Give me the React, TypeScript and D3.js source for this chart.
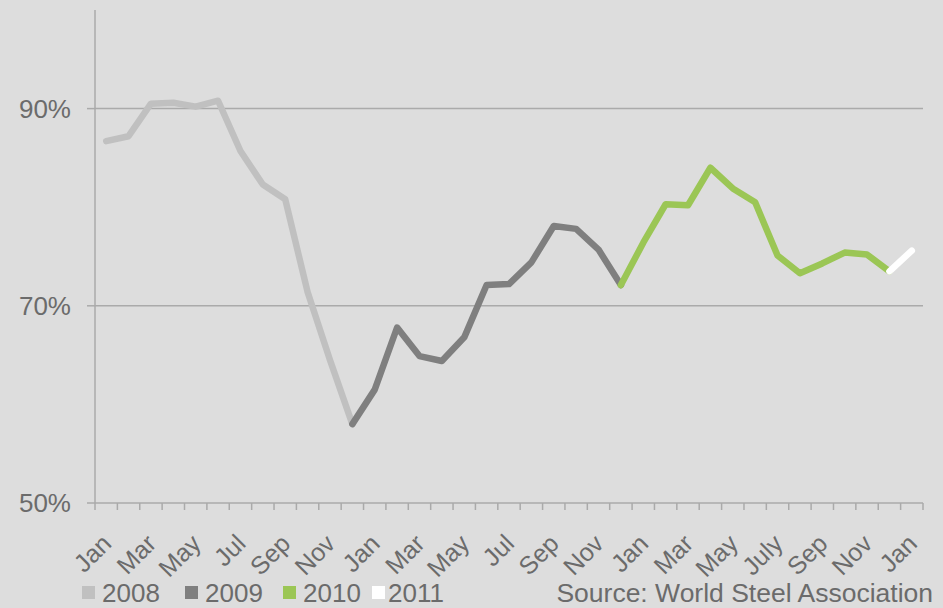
import { useEffect, useRef } from "react";
import * as d3 from "d3";

// one category per month, Jan 2008 .. Jan 2011
const months = [
  "Jan 08", "Feb 08", "Mar 08", "Apr 08", "May 08", "Jun 08", "Jul 08", "Aug 08", "Sep 08", "Oct 08", "Nov 08", "Dec 08",
  "Jan 09", "Feb 09", "Mar 09", "Apr 09", "May 09", "Jun 09", "Jul 09", "Aug 09", "Sep 09", "Oct 09", "Nov 09", "Dec 09",
  "Jan 10", "Feb 10", "Mar 10", "Apr 10", "May 10", "Jun 10", "Jul 10", "Aug 10", "Sep 10", "Oct 10", "Nov 10", "Dec 10",
  "Jan 11",
];
// shown labels (every other month)
const monthLabels = [
  "Jan", "", "Mar", "", "May", "", "Jul", "", "Sep", "", "Nov", "",
  "Jan", "", "Mar", "", "May", "", "Jul", "", "Sep", "", "Nov", "",
  "Jan", "", "Mar", "", "May", "", "July", "", "Sep", "", "Nov", "",
  "Jan",
];

// capacity utilisation, %
const util2008 = [86.7, 87.2, 90.5, 90.6, 90.2, 90.8, 85.7, 82.3, 80.8, 71.4, 64.5, 58.0];
const util2009 = [58.0, 61.5, 67.8, 64.9, 64.4, 66.8, 72.1, 72.2, 74.4, 78.1, 77.8, 75.7, 72.1];
const util2010 = [72.1, 76.4, 80.3, 80.2, 84.0, 81.9, 80.5, 75.1, 73.3, 74.3, 75.4, 75.2, 73.5];
const util2011 = [73.5, 75.6];

const seriesNames = ["2008", "2009", "2010", "2011"];
const seriesStart = [0, 11, 23, 35];
const seriesColors = ["#c0c0c0", "#7f7f7f", "#9bc655", "#ffffff"];

const yTicks = [50, 70, 90];

const App = () => {
  const ref = useRef<HTMLDivElement | null>(null);

  function render(svg: any) {
    const width = 943;
    const height = 608;
    const left = 95;
    const right = 923;
    const top = 10;
    const bottom = 503;
    const textColor = "#6b6b6b";
    const axisColor = "#aaaaaa";
    const font = "'Liberation Sans', Arial, sans-serif";

    svg.attr("width", width).attr("height", height).style("display", "block");
    svg.append("rect").attr("width", width).attr("height", height).attr("fill", "#dddddd");

    const x = d3.scaleBand().domain(months).range([left, right]);
    const cx = (i: number) => (x(months[i]) as number) + x.bandwidth() / 2;
    const y = d3.scaleLinear().domain([50, 100]).range([bottom, top]);

    // gridlines
    svg
      .selectAll(".grid")
      .data(yTicks.slice(1))
      .enter()
      .append("line")
      .attr("x1", left)
      .attr("x2", right)
      .attr("y1", (d: number) => y(d))
      .attr("y2", (d: number) => y(d))
      .attr("stroke", axisColor)
      .attr("stroke-width", 1.5);

    // y axis
    svg.append("line").attr("x1", left).attr("x2", left).attr("y1", top).attr("y2", bottom)
      .attr("stroke", axisColor).attr("stroke-width", 1.5);
    svg
      .selectAll(".ytick")
      .data(yTicks)
      .enter()
      .append("line")
      .attr("x1", left - 8)
      .attr("x2", left)
      .attr("y1", (d: number) => y(d))
      .attr("y2", (d: number) => y(d))
      .attr("stroke", axisColor)
      .attr("stroke-width", 1.5);
    svg
      .selectAll(".ylab")
      .data(yTicks)
      .enter()
      .append("text")
      .attr("x", left - 24)
      .attr("y", (d: number) => y(d))
      .attr("dy", "0.35em")
      .attr("text-anchor", "end")
      .attr("font-family", font)
      .attr("font-size", 26)
      .attr("fill", textColor)
      .text((d: number) => d + "%");

    // x axis
    svg.append("line").attr("x1", left).attr("x2", right).attr("y1", bottom).attr("y2", bottom)
      .attr("stroke", axisColor).attr("stroke-width", 1.5);
    const tickXs = months.map((m) => x(m) as number).concat([right]);
    svg
      .selectAll(".xtick")
      .data(tickXs)
      .enter()
      .append("line")
      .attr("x1", (d: number) => d)
      .attr("x2", (d: number) => d)
      .attr("y1", bottom)
      .attr("y2", bottom + 7)
      .attr("stroke", axisColor)
      .attr("stroke-width", 1.5);
    svg
      .selectAll(".xlab")
      .data(monthLabels)
      .enter()
      .append("text")
      .attr("transform", (_d: string, i: number) => `translate(${cx(i) + 0.5},${bottom + 36}) rotate(-45)`)
      .attr("dy", "0.35em")
      .attr("text-anchor", "end")
      .attr("font-family", font)
      .attr("font-size", 25)
      .attr("fill", textColor)
      .text((d: string) => d);

    // lines
    const allSeries = [util2008, util2009, util2010, util2011];
    allSeries.forEach((vals, s) => {
      const line = d3
        .line<number>()
        .x((_d, i) => cx(seriesStart[s] + i))
        .y((d) => y(d));
      svg
        .append("path")
        .attr("d", line(vals))
        .attr("fill", "none")
        .attr("stroke", seriesColors[s])
        .attr("stroke-width", 6.5)
        .attr("stroke-linecap", "round")
        .attr("stroke-linejoin", "round");
    });

    // legend
    const legendX = [82, 185, 283, 372];
    seriesNames.forEach((name, s) => {
      const g = svg.append("g").attr("transform", `translate(${legendX[s]},0)`);
      g.append("rect").attr("x", 0).attr("y", 586).attr("width", 13).attr("height", 13).attr("fill", seriesColors[s]);
      g.append("text")
        .attr("x", s === 3 ? 16 : 20)
        .attr("y", 602)
        .attr("font-family", font)
        .attr("font-size", 26)
        .attr("fill", textColor)
        .text(name);
    });

    svg
      .append("text")
      .attr("x", 933)
      .attr("y", 602)
      .attr("text-anchor", "end")
      .attr("font-family", font)
      .attr("font-size", 26.5)
      .attr("fill", textColor)
      .text("Source: World Steel Association");
  }

  useEffect(() => {
    if (ref.current) {
      const svg = d3.select(ref.current).append("svg");
      render(svg);
      return () => {
        svg.remove();
      };
    }
  }, []);

  return <div ref={ref} style={{ position: "absolute", left: 0, top: 0 }}></div>;
};

export default App;
